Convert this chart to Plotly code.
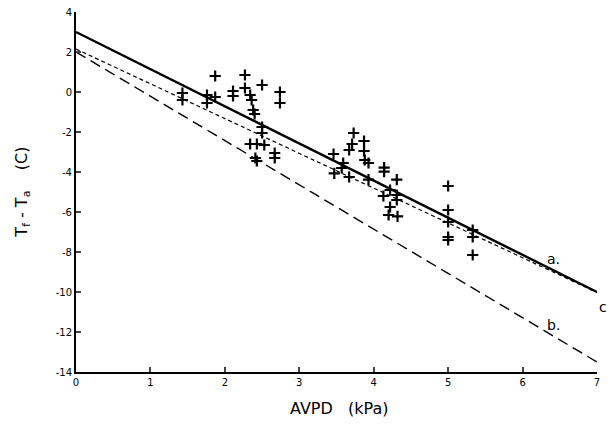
import plotly.graph_objects as go

# Observed points (AVPD kPa, Tf - Ta C)
avpd = [1.43, 1.43, 1.76, 1.76, 1.87, 1.87, 2.11, 2.11, 2.27, 2.27, 2.34, 2.36, 2.38, 2.40,
        2.50, 2.74, 2.74, 2.50, 2.50, 2.34, 2.43, 2.53, 2.41, 2.43, 2.67, 2.67,
        3.46, 3.59, 3.57, 3.47, 3.67, 3.73, 3.71, 3.67, 3.87, 3.87, 3.88, 3.93, 3.93,
        4.14, 4.14, 4.31, 4.22, 4.31, 4.31, 4.13, 4.22, 4.20, 4.32,
        5.0, 5.0, 5.0, 5.0, 5.0, 5.33, 5.33, 5.33]
dtemp = [-0.05, -0.4, -0.15, -0.55, -0.25, 0.8, 0.05, -0.2, 0.85, 0.2, -0.15, -0.4, -0.9, -1.1,
         0.35, 0.0, -0.55, -1.75, -2.05, -2.6, -2.6, -2.65, -3.3, -3.45, -3.05, -3.3,
         -3.1, -3.55, -3.8, -4.07, -4.25, -2.05, -2.6, -2.9, -2.45, -2.95, -3.4, -3.55, -4.38,
         -3.78, -3.98, -4.38, -4.9, -5.15, -5.4, -5.2, -5.75, -6.15, -6.22,
         -4.7, -5.9, -6.5, -7.25, -7.4, -6.9, -7.25, -8.15]

# Lines (endpoints)
line_a_x = [0, 7]
line_a_y = [3.0, -10.0]
line_b_x = [0, 7]
line_b_y = [2.0, -13.5]
line_c_x = [0, 7.1]
line_c_y = [2.15, -10.2]

line_labels = ["a.", "b.", "c"]
label_x = [6.41, 6.41, 7.0]
label_y = [-8.35, -11.65, -10.75]
label_xshift = [0, 0, 6]

x_ticks = [0, 1, 2, 3, 4, 5, 6, 7]
y_ticks = [4, 2, 0, -2, -4, -6, -8, -10, -12, -14]
y_ticktext = ["4", "2", "0", "-2", "-4", "-6", "-8", "-10", "-12", "-14"]

fig = go.Figure()
fig.add_trace(go.Scatter(x=line_a_x, y=line_a_y, mode="lines",
                         line=dict(color="black", width=2.4), showlegend=False))
fig.add_trace(go.Scatter(x=line_b_x, y=line_b_y, mode="lines",
                         line=dict(color="black", width=1.4, dash="11px,6px"), showlegend=False))
fig.add_trace(go.Scatter(x=line_c_x, y=line_c_y, mode="lines",
                         line=dict(color="black", width=1.2, dash="4px,3px"), showlegend=False))
fig.add_trace(go.Scatter(x=avpd, y=dtemp, mode="markers",
                         marker=dict(symbol="cross-thin", size=8, color="black",
                                     line=dict(color="black", width=2.2)),
                         showlegend=False))

for t, xx, yy, xs in zip(line_labels, label_x, label_y, label_xshift):
    fig.add_annotation(x=xx, y=yy, xref="x", yref="y", text=t, showarrow=False, xshift=xs,
                       font=dict(family="DejaVu Sans", size=14, color="black"))

fig.add_annotation(x=-0.104, y=0.5, xref="paper", yref="paper", xanchor="center", yanchor="middle",
                   text="T<sub>f</sub> - T<sub>a</sub>&nbsp;&nbsp;&nbsp;&nbsp;(C)", textangle=-90,
                   showarrow=False, font=dict(family="DejaVu Sans", size=16, color="black"))
fig.add_annotation(x=0.505, y=-0.1, xref="paper", yref="paper", xanchor="center", yanchor="middle",
                   text="AVPD&nbsp;&nbsp;&nbsp;(kPa)", showarrow=False,
                   font=dict(family="DejaVu Sans", size=16, color="black"))

fig.update_layout(
    width=609, height=426,
    margin=dict(l=76, r=12, t=6, b=54),
    paper_bgcolor="white", plot_bgcolor="white",
    font=dict(family="DejaVu Sans", size=10, color="black"),
)
fig.update_xaxes(range=[0, 7], tickvals=x_ticks, ticks="inside", ticklen=5, tickwidth=1.5,
                 showline=True, linecolor="black", linewidth=2, showgrid=False, zeroline=False,
                 tickfont=dict(size=10), ticklabeloverflow="allow")
fig.update_yaxes(range=[-14, 4], tickvals=y_ticks, ticktext=y_ticktext, ticks="inside",
                 ticklen=5, tickwidth=2, showline=True, linecolor="black", linewidth=2,
                 showgrid=False, zeroline=False, tickfont=dict(size=10), ticklabeloverflow="allow")

fig.write_html("out.html", config={"displayModeBar": False},
               post_script="document.body.style.margin='0px';document.body.style.padding='0px';")
